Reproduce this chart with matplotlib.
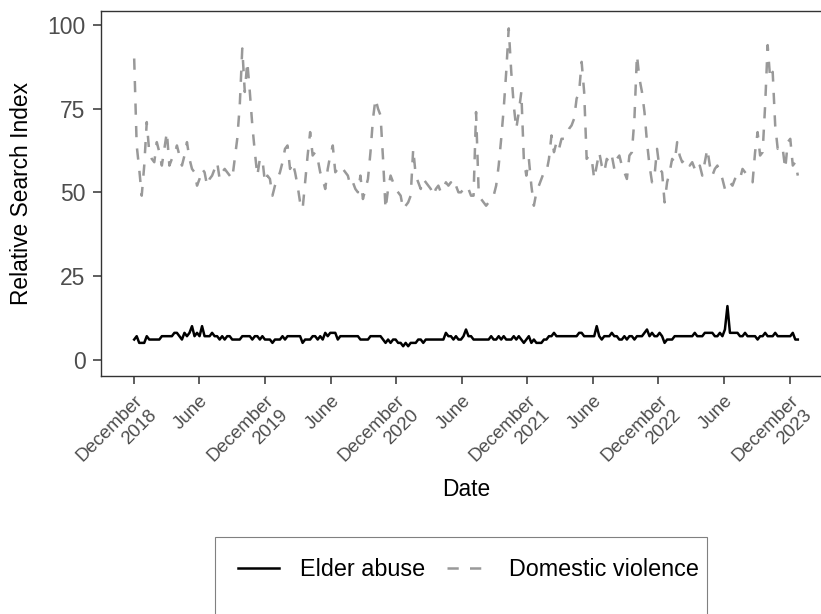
import pandas as pd
import matplotlib
matplotlib.use("Agg")
import matplotlib.pyplot as plt
from matplotlib.patches import Rectangle

plt.rcParams["font.family"] = ["Liberation Sans", "DejaVu Sans"]

# weekly Google Trends style relative search index, first week 2018-12-02
START = "2018-12-02"

elder_abuse = [
    6, 7, 5, 5, 5, 7, 6, 6, 6, 6,
    6, 7, 7, 7, 7, 7, 8, 8, 7, 6,
    8, 7, 8, 10, 7, 8, 7, 10, 7, 7,
    7, 8, 7, 7, 6, 7, 6, 7, 7, 6,
    6, 6, 6, 7, 7, 7, 7, 6, 7, 7,
    6, 7, 6, 6, 6, 5, 6, 6, 6, 7,
    6, 7, 7, 7, 7, 7, 7, 5, 6, 6,
    6, 7, 7, 6, 7, 6, 8, 7, 8, 8,
    8, 6, 7, 7, 7, 7, 7, 7, 7, 7,
    6, 6, 6, 6, 7, 7, 7, 7, 7, 6,
    5, 6, 5, 6, 6, 5, 5, 4, 5, 4,
    5, 5, 5, 6, 6, 5, 6, 6, 6, 6,
    6, 6, 6, 6, 8, 7, 7, 6, 7, 6,
    6, 7, 9, 7, 7, 6, 6, 6, 6, 6,
    6, 6, 7, 6, 6, 7, 6, 7, 6, 6,
    6, 7, 6, 7, 6, 5, 6, 7, 5, 6,
    5, 5, 5, 6, 6, 7, 7, 8, 7, 7,
    7, 7, 7, 7, 7, 7, 7, 8, 8, 7,
    7, 7, 7, 7, 10, 7, 6, 7, 7, 7,
    8, 7, 7, 6, 6, 7, 6, 7, 7, 6,
    7, 7, 7, 8, 9, 7, 8, 7, 7, 8,
    7, 5, 6, 6, 6, 7, 7, 7, 7, 7,
    7, 7, 7, 8, 7, 7, 7, 8, 8, 8,
    8, 7, 7, 8, 7, 9, 16, 8, 8, 8,
    8, 7, 7, 8, 7, 7, 7, 7, 6, 7,
    7, 8, 7, 7, 7, 8, 7, 7, 7, 7,
    7, 7, 8, 6, 6,
]

domestic_violence = [
    90, 64, 57, 49, 58, 71, 62, 60, 59, 65,
    62, 58, 63, 68, 58, 60, 61, 64, 61, 58,
    61, 65, 60, 57, 56, 52, 54, 57, 56, 52,
    54, 55, 57, 59, 54, 56, 57, 56, 55, 54,
    60, 66, 76, 93, 80, 89, 80, 70, 62, 55,
    60, 60, 53, 55, 54, 49, 52, 54, 56, 59,
    63, 64, 57, 59, 56, 52, 47, 45, 53, 61,
    68, 61, 62, 60, 56, 54, 51, 57, 61, 64,
    56, 57, 58, 57, 56, 55, 52, 53, 51, 50,
    55, 48, 51, 54, 62, 72, 78, 75, 73, 60,
    45, 51, 55, 53, 51, 50, 49, 45, 46, 47,
    49, 63, 55, 53, 51, 54, 53, 52, 51, 49,
    51, 52, 50, 51, 53, 52, 53, 51, 52, 50,
    50, 51, 50, 51, 49, 49, 74, 51, 48, 47,
    46, 47, 48, 49, 52, 58, 66, 75, 86, 99,
    86, 76, 69, 74, 80, 60, 55, 60, 52, 46,
    50, 52, 54, 56, 56, 60, 67, 62, 65, 63,
    66, 66, 67, 69, 70, 72, 78, 80, 89, 80,
    60, 61, 60, 54, 58, 62, 58, 56, 60, 59,
    61, 57, 60, 61, 58, 56, 54, 61, 62, 72,
    91, 84, 80, 74, 65, 58, 53, 55, 63, 57,
    56, 47, 53, 56, 60, 59, 65, 61, 59, 60,
    60, 58, 59, 57, 56, 58, 55, 59, 63, 58,
    55, 57, 58, 56, 54, 51, 53, 53, 52, 54,
    55, 54, 57, 56, 55, 54, 53, 62, 68, 61,
    62, 76, 94, 84, 86, 70, 63, 64, 63, 57,
    65, 66, 58, 59, 55,
]

tick_dates = [
    "2018-12-01", "2019-06-01", "2019-12-01", "2020-06-01", "2020-12-01",
    "2021-06-01", "2021-12-01", "2022-06-01", "2022-12-01", "2023-06-01",
    "2023-12-01",
]
tick_labels = [
    "December\n2018", "June", "December\n2019", "June", "December\n2020",
    "June", "December\n2021", "June", "December\n2022", "June",
    "December\n2023",
]
y_ticks = [0, 25, 50, 75, 100]

dates = pd.date_range(START, periods=len(domestic_violence), freq="7D")

W, H = 821, 614
fig = plt.figure(figsize=(W / 100, H / 100), dpi=100)
# panel runs a little past the right edge of the picture
ax = fig.add_axes([101 / W, 1 - 376 / H, (831 - 101) / W, (376 - 11) / H])

ax.plot(dates, elder_abuse, color="black", lw=1.8, label="Elder abuse")
ax.plot(dates, domestic_violence, color="#999999", lw=1.8,
        dashes=(4.5, 4.5), label="Domestic violence")

span = dates[-1] - dates[0]
ax.set_xlim(dates[0] - span * 0.05, dates[-1] + span * 0.05)
ax.set_ylim(-4.9, 104.2)

ax.set_xticks(pd.to_datetime(tick_dates))
ax.set_xticklabels(tick_labels, rotation=45, ha="right", va="top",
                   rotation_mode="anchor", multialignment="right",
                   fontsize=13.4, color="#4D4D4D")
ax.set_yticks(y_ticks)
ax.set_yticklabels([str(v) for v in y_ticks], fontsize=16.5, color="#4D4D4D")
ax.tick_params(axis="both", length=6, width=1.1, color="#333333")
ax.tick_params(axis="x", pad=6)
ax.tick_params(axis="y", pad=5)

for sp in ax.spines.values():
    sp.set_color("#333333")
    sp.set_linewidth(1.0)
ax.spines["right"].set_visible(False)

fig.text(22 / W, 1 - 193.5 / H, "Relative Search Index", rotation=90,
         ha="center", va="center", fontsize=16.4, color="black")
fig.text(466 / W, 1 - 490 / H, "Date", ha="center", va="center",
         fontsize=16.4, color="black")

# legend box, cut by the bottom of the picture
fig.patches.append(Rectangle((215 / W, -0.1), (707 - 215) / W, 0.1 + 1 - 537 / H,
                             transform=fig.transFigure, fill=False,
                             edgecolor="#808080", lw=0.8))
fig.legend(loc="center", bbox_to_anchor=(468.5 / W, 1 - 570 / H), ncol=2,
           frameon=False, fontsize=16.8, handlelength=1.76,
           handletextpad=0.9, columnspacing=0.94, borderpad=0)

fig.savefig("out.png", dpi=100)
